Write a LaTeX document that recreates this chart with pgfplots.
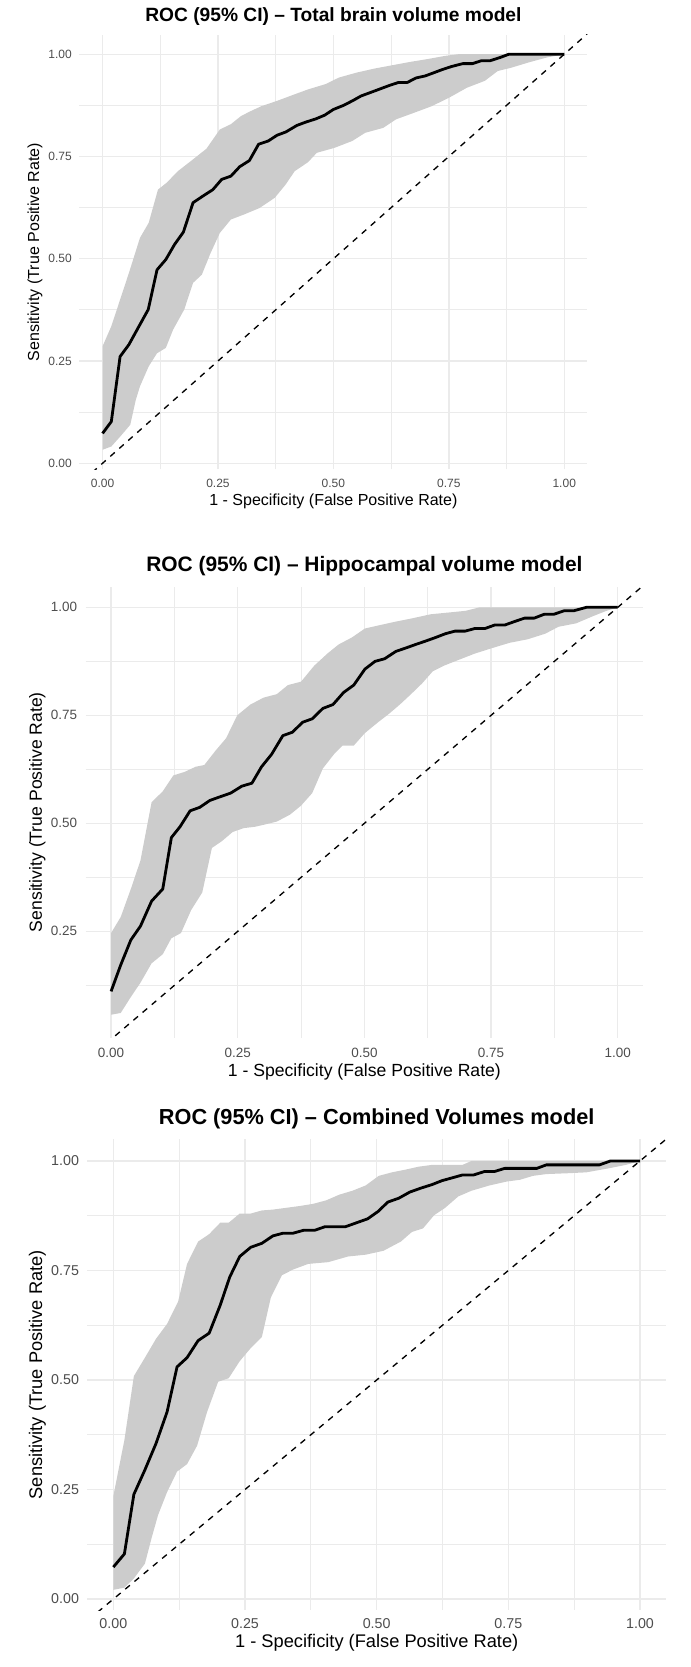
\documentclass[border=0pt]{standalone}
\usepackage{fontspec}
\setmainfont{Liberation Sans}
\usepackage{pgfplots}
\pgfplotsset{compat=1.18}
\usepgfplotslibrary{fillbetween}

\definecolor{gridgrey}{HTML}{EBEBEB}
\definecolor{bandgrey}{HTML}{CCCCCC}
\definecolor{ticktext}{HTML}{4D4D4D}

\pgfplotsset{
  every axis title/.style={at={(0.5,1)}, anchor=center},
  rocpanel/.style={
    scale only axis,
    anchor=south west,
    xmin=-0.05, xmax=1.05,
    axis lines=box,
    axis line style={draw=none},
    major tick length=0pt, minor tick length=0pt,
    xtick={0,0.25,0.5,0.75,1},
    xticklabels={0.00,0.25,0.50,0.75,1.00},
    minor xtick={0.125,0.375,0.625,0.875},
    minor ytick={0.125,0.375,0.625,0.875},
    grid=both,
    major grid style={draw=gridgrey, line width=1.1pt},
    minor grid style={draw=gridgrey, line width=0.6pt},
    xticklabel style={anchor=center, inner sep=0pt, text=ticktext},
    yticklabel style={anchor=east, inner sep=0pt, text=ticktext},
    xlabel={1 - Specificity (False Positive Rate)},
    ylabel={Sensitivity (True Positive Rate)},
    xlabel style={anchor=center},
    ylabel style={anchor=center},
  },
  band/.style={draw=none, forget plot},
  roc/.style={black, line width=2.1pt, line join=round},
  chance/.style={black, line width=1pt, dash pattern=on 4.5pt off 4.5pt},
}

\begin{document}
\begin{tikzpicture}

% ---------- Total brain volume model ----------
\begin{axis}[rocpanel,
  at={(59.6pt,-352.05pt)}, width=380.9pt, height=326.1pt,
  ymin=-0.015, ymax=1.048,
  ytick={0,0.25,0.5,0.75,1},
  yticklabels={0.00,0.25,0.50,0.75,1.00},
  ticklabel style={font=\fontsize{9}{10}\selectfont},
  xticklabel style={yshift=-10.2pt},
  yticklabel style={xshift=-5.6pt},
  title={ROC (95\% CI) – Total brain volume model},
  title style={at={(axis description cs:0.5,1.0424)}, font=\bfseries\fontsize{14.4}{16}\selectfont},
  xlabel style={at={(axis description cs:0.5,-0.0743)}, font=\fontsize{12}{14}\selectfont},
  ylabel style={at={(axis description cs:-0.0876,0.5)}, font=\fontsize{12}{14}\selectfont},
]
\addplot[band, name path=upA] coordinates {
(0,0.286) (0.019,0.335) (0.038,0.400) (0.057,0.465) (0.081,0.551) (0.100,0.588)
(0.120,0.669) (0.139,0.686) (0.163,0.714) (0.196,0.743) (0.225,0.769) (0.254,0.816)
(0.278,0.829) (0.300,0.849) (0.321,0.861) (0.344,0.873) (0.378,0.886) (0.416,0.902)
(0.445,0.914) (0.483,0.927) (0.512,0.943) (0.550,0.955) (0.589,0.965) (0.627,0.973)
(0.665,0.981) (0.703,0.988) (0.742,0.996) (0.770,1.000) (1,1)
};
\addplot[band, name path=loA] coordinates {
(0,0.033) (0.019,0.041) (0.038,0.065) (0.060,0.094) (0.072,0.155) (0.081,0.188)
(0.100,0.237) (0.118,0.269) (0.137,0.282) (0.153,0.327) (0.177,0.376) (0.196,0.441)
(0.215,0.461) (0.234,0.514) (0.254,0.563) (0.278,0.596) (0.306,0.608) (0.340,0.624)
(0.373,0.649) (0.397,0.682) (0.416,0.714) (0.445,0.736) (0.464,0.759) (0.502,0.771)
(0.541,0.788) (0.569,0.808) (0.608,0.820) (0.636,0.841) (0.675,0.857) (0.713,0.873)
(0.751,0.894) (0.789,0.918) (0.828,0.935) (0.856,0.959) (0.885,0.967) (0.923,0.980)
(0.962,0.992) (1,1)
};
\addplot[bandgrey, draw=none] fill between[of=upA and loA];
\addplot[roc] coordinates {
(0,0.073) (0.019,0.102) (0.038,0.261) (0.057,0.290) (0.077,0.331) (0.099,0.376)
(0.118,0.473) (0.137,0.498) (0.156,0.535) (0.175,0.565) (0.196,0.637) (0.217,0.653)
(0.239,0.669) (0.258,0.694) (0.278,0.702) (0.297,0.725) (0.318,0.740) (0.338,0.780)
(0.359,0.788) (0.378,0.802) (0.397,0.810) (0.421,0.826) (0.440,0.834) (0.462,0.842)
(0.481,0.851) (0.500,0.865) (0.522,0.875) (0.541,0.886) (0.560,0.898) (0.584,0.908)
(0.603,0.916) (0.622,0.924) (0.641,0.931) (0.660,0.931) (0.679,0.942) (0.699,0.947)
(0.718,0.955) (0.737,0.963) (0.756,0.970) (0.780,0.977) (0.801,0.977) (0.820,0.984)
(0.839,0.984) (0.861,0.992) (0.880,1.000) (1,1)
};
\addplot[chance] coordinates {(-0.1,-0.1) (1.1,1.1)};
\end{axis}

% ---------- Hippocampal volume model ----------
\begin{axis}[rocpanel,
  at={(64.3pt,-778.2pt)}, width=418pt, height=338.25pt,
  ymin=0.004, ymax=1.048,
  ytick={0.25,0.5,0.75,1},
  yticklabels={0.25,0.50,0.75,1.00},
  ticklabel style={font=\fontsize{10.1}{11}\selectfont},
  xticklabel style={yshift=-11.8pt},
  yticklabel style={xshift=-6.3pt},
  title={ROC (95\% CI) – Hippocampal volume model},
  title style={at={(axis description cs:0.5,1.0457)}, font=\bfseries\fontsize{15.7}{18}\selectfont},
  xlabel style={at={(axis description cs:0.5,-0.0756)}, font=\fontsize{13.2}{15}\selectfont},
  ylabel style={at={(axis description cs:-0.0867,0.5)}, font=\fontsize{13.2}{15}\selectfont},
]
\addplot[band, name path=upB] coordinates {
(0,0.246) (0.019,0.283) (0.039,0.348) (0.058,0.414) (0.080,0.549) (0.102,0.574)
(0.123,0.611) (0.145,0.619) (0.167,0.631) (0.184,0.635) (0.206,0.668) (0.227,0.697)
(0.249,0.750) (0.275,0.775) (0.301,0.791) (0.327,0.799) (0.349,0.820) (0.375,0.828)
(0.401,0.865) (0.427,0.893) (0.449,0.914) (0.475,0.930) (0.501,0.951) (0.531,0.959)
(0.562,0.967) (0.596,0.975) (0.631,0.984) (0.666,0.988) (0.700,0.992) (0.727,1.000)
(1,1)
};
\addplot[band, name path=loB] coordinates {
(0,0.057) (0.019,0.061) (0.039,0.098) (0.058,0.131) (0.080,0.176) (0.102,0.197)
(0.119,0.234) (0.138,0.246) (0.158,0.299) (0.180,0.340) (0.199,0.443) (0.219,0.459)
(0.240,0.480) (0.262,0.489) (0.284,0.492) (0.306,0.498) (0.327,0.504) (0.353,0.520)
(0.375,0.541) (0.397,0.570) (0.418,0.627) (0.440,0.660) (0.457,0.680) (0.479,0.680)
(0.501,0.709) (0.527,0.734) (0.549,0.754) (0.570,0.775) (0.592,0.799) (0.614,0.824)
(0.635,0.852) (0.657,0.865) (0.683,0.877) (0.718,0.893) (0.753,0.906) (0.787,0.918)
(0.822,0.926) (0.857,0.939) (0.883,0.955) (0.918,0.963) (0.952,0.980) (0.978,0.992)
(1,1)
};
\addplot[bandgrey, draw=none] fill between[of=upB and loB];
\addplot[roc] coordinates {
(0,0.111) (0.019,0.172) (0.039,0.230) (0.058,0.262) (0.080,0.320) (0.102,0.348)
(0.119,0.467) (0.136,0.492) (0.156,0.529) (0.175,0.537) (0.195,0.553) (0.214,0.561)
(0.236,0.570) (0.258,0.586) (0.278,0.593) (0.297,0.631) (0.317,0.660) (0.339,0.703)
(0.358,0.711) (0.378,0.734) (0.397,0.742) (0.418,0.766) (0.438,0.775) (0.459,0.803)
(0.479,0.820) (0.501,0.857) (0.521,0.875) (0.540,0.881) (0.562,0.898) (0.582,0.906)
(0.601,0.914) (0.621,0.922) (0.640,0.930) (0.660,0.939) (0.679,0.945) (0.699,0.945)
(0.718,0.951) (0.738,0.951) (0.757,0.959) (0.777,0.959) (0.796,0.967) (0.816,0.975)
(0.835,0.975) (0.855,0.984) (0.874,0.984) (0.894,0.992) (0.913,0.992) (0.938,1.000)
(1,1)
};
\addplot[chance] coordinates {(-0.1,-0.1) (1.1,1.1)};
\end{axis}

% ---------- Combined volumes model ----------
\begin{axis}[rocpanel,
  at={(65.25pt,-1207.5pt)}, width=434.5pt, height=352.9pt,
  ymin=-0.025, ymax=1.049,
  ytick={0,0.25,0.5,0.75,1},
  yticklabels={0.00,0.25,0.50,0.75,1.00},
  ticklabel style={font=\fontsize{10.7}{12}\selectfont},
  xticklabel style={yshift=-10.5pt},
  yticklabel style={xshift=-5.8pt},
  title={ROC (95\% CI) – Combined Volumes model},
  title style={at={(axis description cs:0.5,1.0436)}, font=\bfseries\fontsize{16.3}{19}\selectfont},
  xlabel style={at={(axis description cs:0.5,-0.0701)}, font=\fontsize{13.7}{16}\selectfont},
  ylabel style={at={(axis description cs:-0.0854,0.5)}, font=\fontsize{13.7}{16}\selectfont},
]
\addplot[band, name path=upC] coordinates {
(0,0.235) (0.021,0.363) (0.039,0.509) (0.060,0.551) (0.081,0.594) (0.102,0.628)
(0.123,0.679) (0.140,0.765) (0.161,0.816) (0.182,0.833) (0.203,0.859) (0.219,0.859)
(0.240,0.880) (0.261,0.880) (0.282,0.887) (0.303,0.889) (0.328,0.893) (0.353,0.897)
(0.379,0.902) (0.404,0.910) (0.429,0.923) (0.454,0.932) (0.479,0.944) (0.504,0.966)
(0.529,0.974) (0.554,0.980) (0.580,0.987) (0.605,0.991) (0.630,0.991) (0.663,0.991)
(0.680,1.000) (1,1)
};
\addplot[band, name path=loC] coordinates {
(0,0.021) (0.021,0.026) (0.039,0.047) (0.060,0.081) (0.073,0.141) (0.085,0.192)
(0.102,0.244) (0.121,0.291) (0.140,0.308) (0.159,0.350) (0.178,0.427) (0.199,0.496)
(0.219,0.504) (0.240,0.543) (0.261,0.573) (0.282,0.598) (0.299,0.688) (0.320,0.739)
(0.341,0.752) (0.370,0.765) (0.408,0.769) (0.446,0.782) (0.479,0.786) (0.513,0.795)
(0.546,0.816) (0.567,0.838) (0.588,0.846) (0.609,0.876) (0.630,0.893) (0.655,0.919)
(0.680,0.932) (0.714,0.944) (0.747,0.953) (0.772,0.957) (0.797,0.966) (0.822,0.970)
(0.864,0.972) (0.898,0.974) (0.940,0.983) (0.973,0.991) (1,1)
};
\addplot[bandgrey, draw=none] fill between[of=upC and loC];
\addplot[roc] coordinates {
(0,0.073) (0.021,0.103) (0.039,0.239) (0.060,0.295) (0.081,0.355) (0.102,0.427)
(0.121,0.530) (0.140,0.551) (0.161,0.590) (0.182,0.607) (0.203,0.671) (0.221,0.735)
(0.240,0.782) (0.261,0.803) (0.282,0.812) (0.303,0.829) (0.322,0.835) (0.341,0.835)
(0.362,0.842) (0.383,0.842) (0.402,0.850) (0.422,0.850) (0.441,0.850) (0.462,0.859)
(0.483,0.868) (0.503,0.885) (0.521,0.906) (0.542,0.915) (0.563,0.929) (0.584,0.938)
(0.605,0.946) (0.624,0.955) (0.645,0.962) (0.663,0.968) (0.684,0.968) (0.705,0.976)
(0.724,0.976) (0.743,0.983) (0.764,0.983) (0.804,0.983) (0.822,0.991) (0.923,0.991)
(0.944,1.000) (1,1)
};
\addplot[chance] coordinates {(-0.1,-0.1) (1.1,1.1)};
\end{axis}

% fixed page frame
\pgfresetboundingbox
\path[use as bounding box] (0,0) rectangle (517.5pt,-1250.25pt);
\end{tikzpicture}
\end{document}
